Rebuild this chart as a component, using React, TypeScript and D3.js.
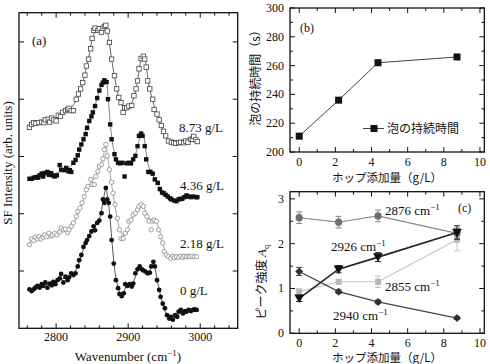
import React from 'react';
import * as d3 from 'd3';

const SERIF = '"Liberation Serif", "Times New Roman", serif';
const JP = '"Noto Sans CJK JP", "Noto Sans CJK SC", sans-serif';

type P = [number, number];

// ---------- Panel (a): SFG spectra (wavenumber, intensity offset units) ----------
const spec873: P[] = [[2763,3.51],[2766,3.56],[2769,3.59],[2772,3.58],[2776,3.59],[2780,3.60],[2783,3.59],[2785,3.64],[2789,3.65],[2791,3.60],[2794,3.67],[2797,3.64],[2800,3.62],[2803,3.72],[2806,3.70],[2809,3.77],[2813,3.80],[2816,3.82],[2818,3.84],[2821,3.80],[2824,3.80],[2828,4.00],[2831,4.09],[2834,4.18],[2837,4.29],[2840,4.42],[2842,4.58],[2845,4.70],[2848,4.88],[2850,5.06],[2852,5.20],[2854,5.24],[2858,5.20],[2860,5.23],[2863,5.17],[2865,5.24],[2867,5.27],[2869,5.29],[2871,5.19],[2874,4.99],[2877,4.70],[2881,4.41],[2884,4.18],[2887,4.03],[2890,3.94],[2893,3.77],[2895,3.85],[2898,3.85],[2901,3.88],[2905,3.89],[2908,4.06],[2911,4.18],[2913,4.32],[2915,4.53],[2918,4.71],[2921,4.75],[2923,4.70],[2925,4.56],[2927,4.32],[2930,4.18],[2934,4.00],[2936,3.82],[2940,3.74],[2943,3.64],[2946,3.54],[2949,3.44],[2952,3.36],[2956,3.27],[2960,3.25],[2963,3.24],[2966,3.23],[2970,3.24],[2973,3.25],[2977,3.24],[2980,3.27],[2983,3.25],[2987,3.30],[2989,3.30],[2991,3.35],[2994,3.29],[2996,3.26]];
const spec436: P[] = [[2763,2.61],[2766,2.61],[2769,2.63],[2772,2.64],[2775,2.63],[2777,2.67],[2780,2.70],[2782,2.65],[2784,2.71],[2788,2.73],[2790,2.68],[2793,2.71],[2795,2.67],[2798,2.65],[2801,2.67],[2805,2.85],[2807,2.77],[2811,2.76],[2814,2.80],[2817,2.74],[2819,2.76],[2821,2.73],[2824,2.89],[2827,2.94],[2830,3.02],[2832,3.12],[2835,3.21],[2838,3.30],[2841,3.39],[2843,3.50],[2846,3.62],[2849,3.70],[2851,3.77],[2854,3.88],[2857,4.02],[2860,4.15],[2863,4.25],[2865,4.29],[2867,4.33],[2870,4.30],[2872,4.00],[2875,3.56],[2877,3.30],[2881,3.04],[2883,2.95],[2886,2.89],[2889,2.88],[2892,2.89],[2895,2.65],[2898,2.88],[2901,2.89],[2904,2.88],[2907,2.95],[2910,3.01],[2913,3.18],[2915,3.36],[2918,3.40],[2920,3.36],[2923,3.18],[2925,2.95],[2928,2.73],[2931,2.73],[2934,2.70],[2937,2.60],[2941,2.54],[2944,2.43],[2947,2.37],[2949,2.36],[2952,2.33],[2955,2.30],[2958,2.27],[2960,2.25],[2964,2.23],[2967,2.22],[2970,2.25],[2972,2.26],[2975,2.26],[2978,2.29],[2981,2.32],[2984,2.30],[2987,2.29],[2990,2.30],[2994,2.29],[2996,2.29]];
const spec218: P[] = [[2763,1.46],[2766,1.56],[2769,1.53],[2771,1.59],[2774,1.56],[2776,1.60],[2779,1.56],[2782,1.59],[2784,1.63],[2787,1.60],[2790,1.66],[2793,1.61],[2795,1.63],[2798,1.66],[2801,1.63],[2805,1.68],[2807,1.75],[2810,1.72],[2813,1.73],[2816,1.67],[2818,1.72],[2821,1.78],[2824,1.84],[2828,1.95],[2830,2.04],[2833,2.10],[2836,2.19],[2839,2.30],[2842,2.42],[2844,2.48],[2848,2.60],[2850,2.51],[2853,2.51],[2855,2.65],[2858,2.74],[2860,2.83],[2863,2.86],[2865,2.96],[2867,3.12],[2869,3.21],[2871,3.01],[2874,2.77],[2877,2.55],[2879,2.36],[2882,2.16],[2885,1.92],[2888,1.72],[2890,1.57],[2893,1.57],[2896,1.66],[2899,1.72],[2901,1.87],[2904,1.89],[2907,1.98],[2910,2.01],[2913,2.07],[2915,2.13],[2918,2.16],[2921,2.13],[2923,2.01],[2926,1.95],[2929,1.87],[2932,1.72],[2934,1.87],[2936,1.89],[2939,1.87],[2942,1.72],[2945,1.60],[2948,1.49],[2950,1.34],[2953,1.28],[2956,1.25],[2959,1.22],[2962,1.26],[2964,1.23],[2967,1.25],[2970,1.24],[2973,1.26],[2976,1.24],[2978,1.26],[2981,1.25],[2984,1.26],[2986,1.25],[2989,1.26],[2992,1.25],[2995,1.25]];
const spec0: P[] = [[2763,0.68],[2766,0.65],[2769,0.68],[2771,0.71],[2774,0.74],[2777,0.71],[2780,0.77],[2782,0.74],[2785,0.80],[2788,0.71],[2791,0.78],[2794,0.75],[2796,0.81],[2799,0.77],[2802,0.84],[2805,0.87],[2807,0.95],[2810,0.80],[2813,0.90],[2816,0.84],[2818,0.89],[2821,0.96],[2824,0.93],[2827,0.96],[2830,1.08],[2832,1.19],[2835,1.28],[2838,1.42],[2841,1.49],[2843,1.54],[2846,1.61],[2849,1.69],[2852,1.78],[2854,1.71],[2857,1.84],[2860,1.88],[2863,2.01],[2865,2.25],[2867,2.19],[2869,2.45],[2871,2.25],[2873,2.19],[2875,1.95],[2877,1.54],[2880,1.13],[2883,0.84],[2886,0.70],[2888,0.60],[2891,0.56],[2894,0.61],[2896,0.77],[2899,0.74],[2902,0.77],[2905,0.73],[2907,0.78],[2910,0.96],[2913,1.03],[2916,1.08],[2919,1.03],[2921,1.01],[2924,0.99],[2927,0.96],[2930,0.97],[2932,1.08],[2935,1.16],[2937,1.08],[2940,0.84],[2943,0.67],[2945,0.55],[2948,0.43],[2951,0.35],[2954,0.23],[2957,0.17],[2959,0.20],[2962,0.15],[2965,0.23],[2968,0.20],[2970,0.29],[2973,0.32],[2976,0.26],[2979,0.30],[2981,0.29],[2984,0.32],[2987,0.30],[2990,0.32],[2992,0.33],[2995,0.32]];

const fit873: P[] = [[2763,3.55],[2778,3.59],[2793,3.63],[2803,3.68],[2813,3.77],[2823,3.88],[2831,4.07],[2838,4.35],[2845,4.72],[2851,5.08],[2856,5.22],[2863,5.24],[2869,5.25],[2873,5.05],[2877,4.70],[2881,4.40],[2886,4.08],[2891,3.90],[2896,3.84],[2903,3.90],[2909,4.07],[2914,4.40],[2918,4.68],[2921,4.76],[2924,4.66],[2928,4.30],[2933,4.02],[2939,3.77],[2945,3.57],[2951,3.40],[2958,3.27],[2965,3.24],[2973,3.25],[2983,3.27],[2996,3.28]];
const fit436: P[] = [[2763,2.62],[2778,2.66],[2793,2.69],[2803,2.72],[2813,2.77],[2823,2.86],[2830,3.00],[2836,3.24],[2843,3.50],[2849,3.70],[2855,3.93],[2861,4.18],[2866,4.32],[2869,4.34],[2872,4.05],[2875,3.60],[2879,3.18],[2883,2.97],[2888,2.89],[2895,2.87],[2903,2.90],[2909,3.00],[2914,3.22],[2918,3.40],[2921,3.37],[2924,3.15],[2928,2.85],[2933,2.70],[2939,2.57],[2945,2.42],[2953,2.31],[2961,2.25],[2968,2.23],[2978,2.27],[2996,2.29]];
const fit218: P[] = [[2763,1.50],[2778,1.57],[2793,1.63],[2803,1.66],[2813,1.71],[2821,1.77],[2828,1.92],[2835,2.15],[2843,2.42],[2851,2.58],[2858,2.75],[2864,2.92],[2867,3.10],[2869,3.20],[2871,3.05],[2874,2.78],[2879,2.35],[2884,1.98],[2889,1.70],[2893,1.62],[2898,1.72],[2905,1.90],[2913,2.07],[2919,2.15],[2923,2.08],[2928,1.95],[2933,1.88],[2938,1.86],[2943,1.72],[2948,1.48],[2953,1.30],[2959,1.24],[2968,1.24],[2983,1.25],[2996,1.25]];
const fit0: P[] = [[2763,0.67],[2773,0.71],[2783,0.75],[2793,0.78],[2803,0.84],[2813,0.88],[2823,0.94],[2829,1.05],[2835,1.28],[2841,1.48],[2848,1.68],[2855,1.80],[2861,1.95],[2865,2.20],[2869,2.43],[2872,2.25],[2875,1.90],[2878,1.45],[2881,1.05],[2885,0.76],[2889,0.62],[2893,0.62],[2898,0.74],[2905,0.76],[2910,0.90],[2915,1.05],[2921,1.02],[2927,0.97],[2932,1.06],[2935,1.15],[2938,1.00],[2943,0.68],[2948,0.43],[2953,0.25],[2958,0.17],[2963,0.18],[2969,0.24],[2978,0.29],[2988,0.31],[2996,0.32]];

const specLabels = ['8.73 g/L', '4.36 g/L', '2.18 g/L', '0 g/L'];
const xTicksA = [2800, 2900, 3000];

// ---------- Panel (b): foam duration ----------
const hop = [0, 2.18, 4.36, 8.73];
const foamTime = [211, 236, 262, 266];
const yTicksB = [200, 220, 240, 260, 280, 300];
const xTicksBC = [0, 2, 4, 6, 8, 10];

// ---------- Panel (c): peak intensities ----------
const a2876 = [2.58, 2.48, 2.62, 2.23];
const e2876 = [0.13, 0.13, 0.13, 0.12];
const a2926 = [0.78, 1.43, 1.70, 2.25];
const e2926 = [0.07, 0.08, 0.10, 0.15];
const a2855 = [0.93, 1.15, 1.15, 2.09];
const e2855 = [0.06, 0.05, 0.13, 0.25];
const a2940 = [1.38, 0.93, 0.70, 0.34];
const e2940 = [0.09, 0.04, 0.04, 0.03];
const yTicksC = [0, 1, 2, 3];

function range(a: number, b: number, s: number) {
  const r: number[] = [];
  for (let v = a; v <= b + 1e-9; v += s) r.push(+v.toFixed(6));
  return r;
}

function Frame({ xs, ys, xMajor, xMinor, yMajor, yMinor }: any) {
  const [x0, x1] = xs.range();
  const [yb, yt] = ys.range();
  const M = 5, m = 3;
  const lines: any[] = [];
  xMajor.forEach((v: number, i: number) => {
    const x = xs(v);
    lines.push(<line key={'xM' + i} x1={x} x2={x} y1={yb} y2={yb - M} />);
    lines.push(<line key={'xMt' + i} x1={x} x2={x} y1={yt} y2={yt + M} />);
  });
  xMinor.forEach((v: number, i: number) => {
    const x = xs(v);
    lines.push(<line key={'xm' + i} x1={x} x2={x} y1={yb} y2={yb - m} />);
    lines.push(<line key={'xmt' + i} x1={x} x2={x} y1={yt} y2={yt + m} />);
  });
  yMajor.forEach((v: number, i: number) => {
    const y = ys(v);
    lines.push(<line key={'yM' + i} x1={x0} x2={x0 + M} y1={y} y2={y} />);
    lines.push(<line key={'yMr' + i} x1={x1} x2={x1 - M} y1={y} y2={y} />);
  });
  yMinor.forEach((v: number, i: number) => {
    const y = ys(v);
    lines.push(<line key={'ym' + i} x1={x0} x2={x0 + m} y1={y} y2={y} />);
    lines.push(<line key={'ymr' + i} x1={x1} x2={x1 - m} y1={y} y2={y} />);
  });
  return (
    <g stroke="#111" strokeWidth={1} fill="none">
      <rect x={x0} y={yt} width={x1 - x0} height={yb - yt} strokeWidth={1.3} />
      {lines}
    </g>
  );
}

function CmLabel({ x, y, value }: { x: number; y: number; value: string }) {
  return (
    <text x={x} y={y} fontFamily={SERIF} fontSize={13} fill="#111">
      {value} cm<tspan dy={-5} fontSize={9}>−1</tspan>
    </text>
  );
}

export default function App() {
  // Panel (a)
  const xA = d3.scaleLinear().domain([2748.5, 3052]).range([19, 237.7]);
  const yA = d3.scaleLinear().domain([0, 5.51]).range([328.3, 12.7]);
  const fitLine = d3.line<P>().x(d => xA(d[0])).y(d => yA(d[1])).curve(d3.curveCatmullRom.alpha(0.5));
  const sq = 4.4;

  // Panel (b)
  const xB = d3.scaleLinear().domain([-0.51, 10.24]).range([290, 484.3]);
  const yB = d3.scaleLinear().domain([200, 300]).range([152, 8]);
  const lineB = d3.line<number>().x((_, i) => xB(hop[i])).y(d => yB(d));

  // Panel (c)
  const xC = d3.scaleLinear().domain([-0.51, 10.24]).range([290, 484.3]);
  const yC = d3.scaleLinear().domain([0, 3.16]).range([333.3, 191.7]);
  const lineC = d3.line<number>().x((_, i) => xC(hop[i])).y(d => yC(d));

  const errBars = (vals: number[], errs: number[], color: string, key: string) =>
    vals.map((v, i) => {
      const x = xC(hop[i]);
      return (
        <g key={key + i} stroke={color} strokeWidth={1}>
          <line x1={x} x2={x} y1={yC(v - errs[i])} y2={yC(v + errs[i])} />
          <line x1={x - 3} x2={x + 3} y1={yC(v - errs[i])} y2={yC(v - errs[i])} />
          <line x1={x - 3} x2={x + 3} y1={yC(v + errs[i])} y2={yC(v + errs[i])} />
        </g>
      );
    });

  return (
    <svg width={490} height={364} style={{ position: 'absolute', left: 0, top: 0, background: '#fff' }}>
      <rect x={0} y={0} width={490} height={364} fill="#fff" />

      {/* ---------------- Panel (a) ---------------- */}
      <Frame xs={xA} ys={yA} xMajor={xTicksA} xMinor={range(2760, 3040, 20).filter(v => v % 100 !== 0)} yMajor={[1, 2, 3, 4, 5]} yMinor={[]} />
      {/* fits */}
      <path d={fitLine(fit873) || ''} fill="none" stroke="#555" strokeWidth={0.9} />
      <path d={fitLine(fit436) || ''} fill="none" stroke="#777" strokeWidth={0.9} />
      <path d={fitLine(fit218) || ''} fill="none" stroke="#999" strokeWidth={0.9} />
      <path d={fitLine(fit0) || ''} fill="none" stroke="#444" strokeWidth={0.9} />
      {/* points */}
      {spec873.map((d, i) => (
        <rect key={'p873' + i} x={xA(d[0]) - sq / 2} y={yA(d[1]) - sq / 2} width={sq} height={sq} fill="#fff" stroke="#444" strokeWidth={0.8} />
      ))}
      {spec436.map((d, i) => (
        <rect key={'p436' + i} x={xA(d[0]) - sq / 2} y={yA(d[1]) - sq / 2} width={sq} height={sq} fill="#111" />
      ))}
      {spec218.map((d, i) => (
        <circle key={'p218' + i} cx={xA(d[0])} cy={yA(d[1])} r={2.2} fill="#fff" stroke="#888" strokeWidth={0.8} />
      ))}
      {spec0.map((d, i) => (
        <circle key={'p0' + i} cx={xA(d[0])} cy={yA(d[1])} r={2.4} fill="#111" />
      ))}
      {/* labels */}
      <g fontFamily={SERIF} fontSize={13} fill="#111">
        <text x={32} y={45}>(a)</text>
        <text x={179} y={131.5}>{specLabels[0]}</text>
        <text x={180} y={189.5}>{specLabels[1]}</text>
        <text x={180} y={247.5}>{specLabels[2]}</text>
        <text x={180} y={294.5}>{specLabels[3]}</text>
      </g>
      <g fontFamily={SERIF} fontSize={12} fill="#111" textAnchor="middle">
        {xTicksA.map(v => (
          <text key={'xa' + v} x={xA(v)} y={340.5}>{v}</text>
        ))}
      </g>
      <text x={128} y={361} fontFamily={SERIF} fontSize={13} fill="#111" textAnchor="middle">
        Wavenumber (cm<tspan dy={-5} fontSize={9}>−1</tspan><tspan dy={5}>)</tspan>
      </text>
      <text transform="translate(11.5,163) rotate(-90)" fontFamily={SERIF} fontSize={13} fill="#111" textAnchor="middle">
        SF Intensity (arb. units)
      </text>

      {/* ---------------- Panel (b) ---------------- */}
      <Frame xs={xB} ys={yB} xMajor={xTicksBC} xMinor={[1, 3, 5, 7, 9]} yMajor={yTicksB} yMinor={[210, 230, 250, 270, 290]} />
      <path d={lineB(foamTime) || ''} fill="none" stroke="#444" strokeWidth={1} />
      {foamTime.map((v, i) => (
        <rect key={'b' + i} x={xB(hop[i]) - 3.5} y={yB(v) - 3.5} width={7} height={7} fill="#111" />
      ))}
      <g fontFamily={SERIF} fontSize={12} fill="#111">
        {yTicksB.map(v => (
          <text key={'yb' + v} x={284} y={yB(v) + 4} textAnchor="end">{v}</text>
        ))}
        {xTicksBC.map(v => (
          <text key={'xb' + v} x={xB(v)} y={166} textAnchor="middle">{v}</text>
        ))}
        <text x={300} y={32}>(b)</text>
      </g>
      {/* legend */}
      <line x1={363} x2={384} y1={128.5} y2={128.5} stroke="#444" strokeWidth={1} />
      <rect x={370.5} y={125} width={7} height={7} fill="#111" />
      <text x={387} y={133} fontFamily={JP} fontSize={12} fill="#111">泡の持続時間</text>
      <text x={387} y={182} fontFamily={JP} fontSize={11.5} fill="#111" textAnchor="middle">ホップ添加量（g/L）</text>
      <text transform="translate(259.5,75) rotate(-90)" fontFamily={JP} fontSize={12} fill="#111" textAnchor="middle">
        泡の持続時間（s）
      </text>

      {/* ---------------- Panel (c) ---------------- */}
      <Frame xs={xC} ys={yC} xMajor={xTicksBC} xMinor={[1, 3, 5, 7, 9]} yMajor={yTicksC} yMinor={[0.5, 1.5, 2.5]} />
      {/* 2855 light gray squares */}
      <path d={lineC(a2855) || ''} fill="none" stroke="#c4c4c4" strokeWidth={1.1} />
      {errBars(a2855, e2855, '#c4c4c4', 'e2855')}
      {a2855.map((v, i) => (
        <rect key={'s2855' + i} x={xC(hop[i]) - 3} y={yC(v) - 3} width={6} height={6} fill="#b8b8b8" />
      ))}
      {/* 2876 gray circles */}
      <path d={lineC(a2876) || ''} fill="none" stroke="#8a8a8a" strokeWidth={1.1} />
      {errBars(a2876, e2876, '#8a8a8a', 'e2876')}
      {a2876.map((v, i) => (
        <circle key={'c2876' + i} cx={xC(hop[i])} cy={yC(v)} r={3.6} fill="#6e6e6e" />
      ))}
      {/* 2940 diamonds */}
      <path d={lineC(a2940) || ''} fill="none" stroke="#444" strokeWidth={1.2} />
      {errBars(a2940, e2940, '#444', 'e2940')}
      {a2940.map((v, i) => {
        const x = xC(hop[i]), y = yC(v), s = 4;
        return <path key={'d2940' + i} d={`M${x},${y - s}L${x + s},${y}L${x},${y + s}L${x - s},${y}Z`} fill="#333" />;
      })}
      {/* 2926 down triangles */}
      <path d={lineC(a2926) || ''} fill="none" stroke="#222" strokeWidth={1.6} />
      {errBars(a2926, e2926, '#222', 'e2926')}
      {a2926.map((v, i) => {
        const x = xC(hop[i]), y = yC(v), s = 5;
        return <path key={'t2926' + i} d={`M${x - s},${y - s * 0.75}L${x + s},${y - s * 0.75}L${x},${y + s * 0.95}Z`} fill="#111" />;
      })}
      <g fontFamily={SERIF} fontSize={12} fill="#111">
        {yTicksC.map(v => (
          <text key={'yc' + v} x={284} y={yC(v) + 4} textAnchor="end">{v}</text>
        ))}
        {xTicksBC.map(v => (
          <text key={'xc' + v} x={xC(v)} y={347} textAnchor="middle">{v}</text>
        ))}
        <text x={458} y={212}>(c)</text>
      </g>
      <CmLabel x={385} y={215} value="2876" />
      <CmLabel x={331} y={250.5} value="2926" />
      <CmLabel x={385} y={291} value="2855" />
      <CmLabel x={333} y={319.5} value="2940" />
      <text x={387} y={362} fontFamily={JP} fontSize={11.5} fill="#111" textAnchor="middle">ホップ添加量（g/L）</text>
      <text transform="translate(266,282) rotate(-90)" fontFamily={JP} fontSize={12} fill="#111" textAnchor="middle">
        ピーク強度 <tspan fontFamily={SERIF} fontStyle="italic" fontSize={13}>A</tspan><tspan fontFamily={SERIF} fontSize={9} dy={3}>q</tspan>
      </text>
    </svg>
  );
}
